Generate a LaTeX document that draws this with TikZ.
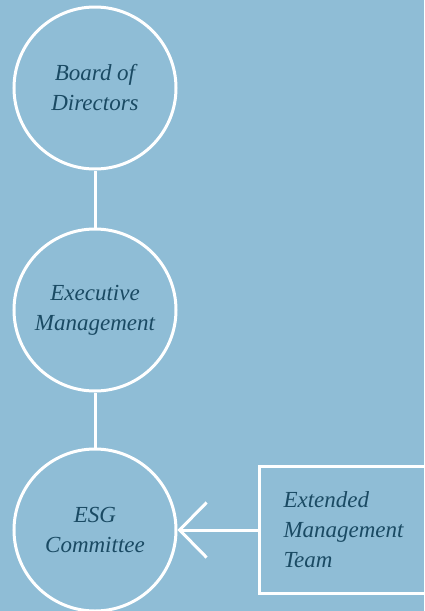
\documentclass[tikz,border=0pt]{standalone}
\usepackage{fontspec}
\setmainfont{Liberation Serif}
\usetikzlibrary{arrows.meta}
\definecolor{bgblue}{HTML}{8FBDD6}
\definecolor{txtteal}{HTML}{1A4A63}
\begin{document}
\begin{tikzpicture}[x=1pt,y=-1pt,
  lbl/.style={text=txtteal,font=\fontsize{23}{30}\selectfont\itshape},
  circ/.style={circle,draw=white,line width=3pt,minimum size=162pt,inner sep=0pt,lbl,align=center},
  boxn/.style={rectangle,draw=white,line width=3pt,minimum height=127pt,text width=150pt,inner xsep=24pt,inner ysep=0pt,lbl,align=left},
  link/.style={draw=white,line width=3pt}]
\fill[bgblue] (0,0) rectangle (424,611);
\useasboundingbox (0,0) rectangle (424,611);
\node[circ] (bod) at (95,88) {Board of\\Directors};
\node[circ] (exe) at (95,310) {Executive\\Management};
\node[circ] (esg) at (95,530) {ESG\\Committee};
\node[boxn,anchor=west] (emt) at (258,530) {Extended\\Management\\Team};
\draw[link] (bod) -- (exe);
\draw[link] (exe) -- (esg);
\draw[link,-{Straight Barb[length=27pt,width=55pt,line width=3pt]}] (emt.west) -- (esg.east);
\end{tikzpicture}
\end{document}
